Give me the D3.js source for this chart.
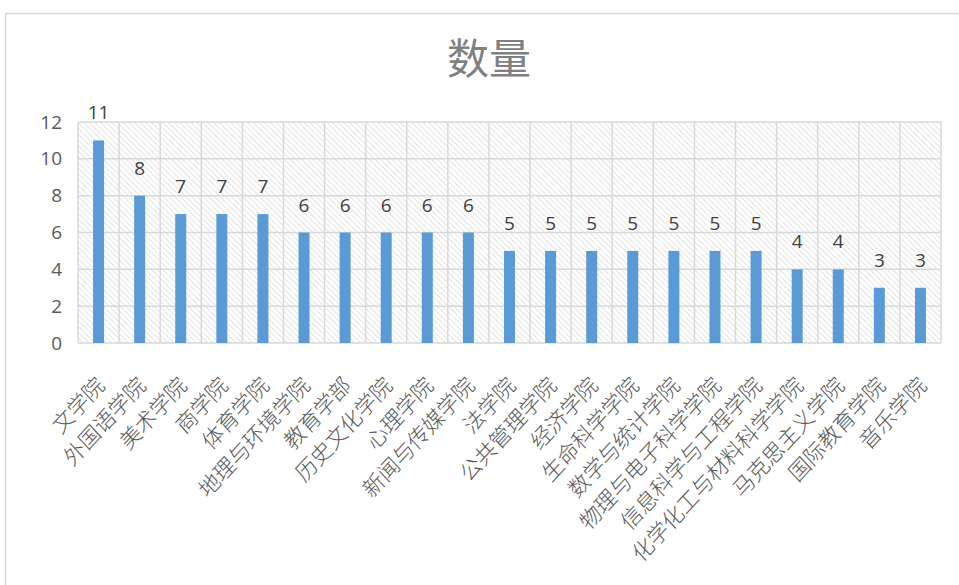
<!DOCTYPE html>
<html>
<head>
<meta charset="utf-8">
<script src="https://cdn.jsdelivr.net/npm/d3@7"></script>
<style>
  body { margin: 0; background: #fff; }
</style>
</head>
<body>
<svg id="chart"></svg>
<script>
const categories = ['文学院', '外国语学院', '美术学院', '商学院', '体育学院', '地理与环境学院', '教育学部',
  '历史文化学院', '心理学院', '新闻与传媒学院', '法学院', '公共管理学院', '经济学院', '生命科学学院',
  '数学与统计学院', '物理与电子科学学院', '信息科学与工程学院', '化学化工与材料科学学院', '马克思主义学院',
  '国际教育学院', '音乐学院'];
const counts = [11, 8, 7, 7, 7, 6, 6, 6, 6, 6, 5, 5, 5, 5, 5, 5, 5, 4, 4, 3, 3];
const yTicks = [0, 2, 4, 6, 8, 10, 12];
const title = '数量';

const width = 959, height = 585;
const margin = { left: 78, right: 18, top: 122, bottom: 242 };

const svg = d3.select('#chart').attr('width', width).attr('height', height);

// outer chart frame
svg.append('rect')
  .attr('x', 5.5).attr('y', 13.5)
  .attr('width', width).attr('height', height)
  .attr('fill', '#fff')
  .attr('stroke', '#d9d9d9')
  .attr('stroke-width', 1.5);

const defs = svg.append('defs');
defs.append('pattern')
  .attr('id', 'hatch')
  .attr('patternUnits', 'userSpaceOnUse')
  .attr('width', 4).attr('height', 4)
  .attr('patternTransform', 'rotate(-45)')
  .append('line')
  .attr('x1', 0).attr('y1', 0).attr('x2', 0).attr('y2', 4)
  .attr('stroke', '#cacaca')
  .attr('stroke-width', 1);

const x = d3.scaleBand().domain(categories).range([margin.left, width - margin.right]);
const y = d3.scaleLinear().domain([0, 12]).range([height - margin.bottom, margin.top]);

// hatched plot area
svg.append('rect')
  .attr('x', margin.left).attr('y', margin.top)
  .attr('width', x.range()[1] - margin.left)
  .attr('height', y(0) - margin.top)
  .attr('fill', 'url(#hatch)');

// horizontal gridlines
svg.append('g')
  .selectAll('line')
  .data(yTicks)
  .join('line')
  .attr('x1', margin.left).attr('x2', x.range()[1])
  .attr('y1', d => y(d)).attr('y2', d => y(d))
  .attr('stroke', '#d9d9d9')
  .attr('stroke-width', 1.5);

// vertical gridlines at category boundaries
const bounds = categories.map(c => x(c)).concat([x.range()[1]]);
svg.append('g')
  .selectAll('line')
  .data(bounds)
  .join('line')
  .attr('x1', d => d).attr('x2', d => d)
  .attr('y1', y(12)).attr('y2', y(0))
  .attr('stroke', '#d9d9d9')
  .attr('stroke-width', 1.5);

// bars
const barW = 11;
svg.append('g')
  .selectAll('rect')
  .data(counts)
  .join('rect')
  .attr('x', (d, i) => x(categories[i]) + x.bandwidth() / 2 - barW / 2)
  .attr('y', d => y(d))
  .attr('width', barW)
  .attr('height', d => y(0) - y(d))
  .attr('fill', '#5b9bd5');

// data labels
svg.append('g')
  .selectAll('text')
  .data(counts)
  .join('text')
  .attr('x', (d, i) => x(categories[i]) + x.bandwidth() / 2)
  .attr('y', d => y(d) - 21)
  .attr('text-anchor', 'middle')
  .attr('font-family', '"Open Sans", sans-serif')
  .attr('font-size', 19)
  .attr('fill', '#404040')
  .text(d => d);

// y axis labels
const yAxis = svg.append('g')
  .attr('transform', `translate(${margin.left},0)`)
  .call(d3.axisLeft(y).tickValues(yTicks).tickSize(0).tickPadding(16));
yAxis.select('.domain').remove();
yAxis.selectAll('text')
  .attr('font-family', '"Open Sans", sans-serif')
  .attr('font-size', 19)
  .attr('fill', '#595959');

// x axis labels
const xAxis = svg.append('g')
  .attr('transform', `translate(0,${y(0)})`)
  .call(d3.axisBottom(x).tickSize(0));
xAxis.select('.domain').remove();
xAxis.selectAll('text')
  .attr('font-family', '"Noto Sans CJK SC", sans-serif')
  .attr('font-weight', 300)
  .attr('font-size', 21)
  .attr('fill', '#595959')
  .attr('text-anchor', 'end')
  .attr('dy', '0.35em')
  .attr('transform', 'translate(0,36) scale(1,1.08) rotate(-45)');

// title
svg.append('text')
  .attr('x', 489).attr('y', 74)
  .attr('text-anchor', 'middle')
  .attr('font-family', '"Noto Sans CJK SC", sans-serif')
  .attr('font-weight', 400)
  .attr('font-size', 42)
  .attr('fill', '#808080')
  .text(title);
</script>
</body>
</html>
